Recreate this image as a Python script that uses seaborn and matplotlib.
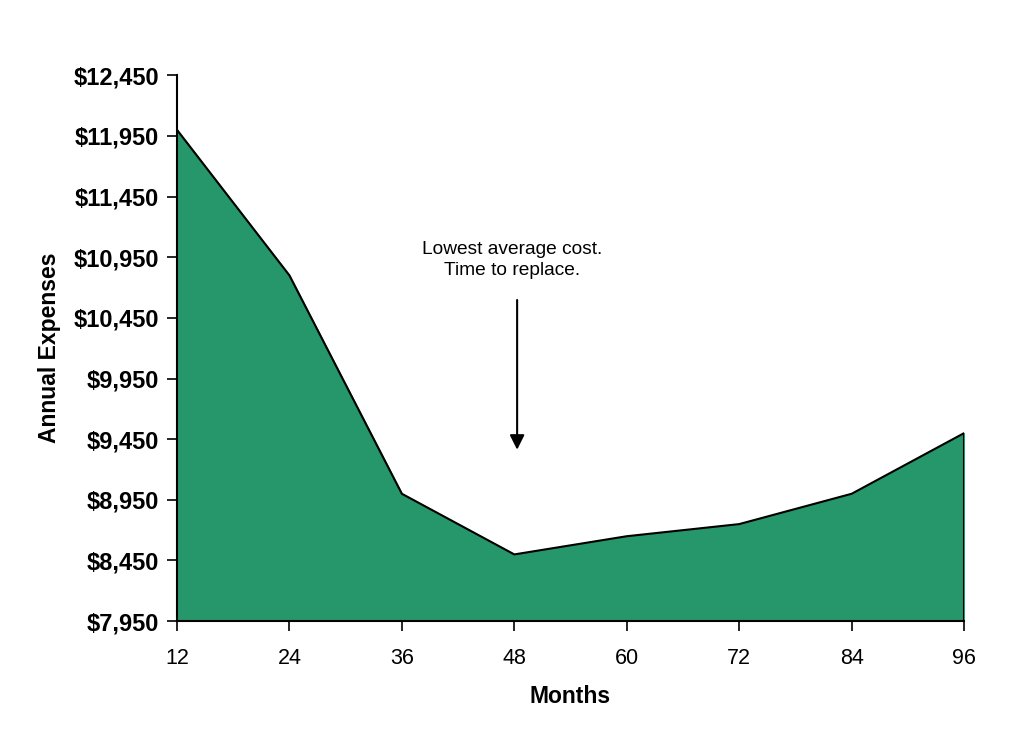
import numpy as np
import pandas as pd
import matplotlib
matplotlib.use("Agg")
import matplotlib.pyplot as plt
import seaborn as sns

sns.set_style("ticks")
plt.rcParams['font.family'] = ['Liberation Sans', 'DejaVu Sans']
plt.rcParams['text.color'] = 'black'
plt.rcParams['axes.labelcolor'] = 'black'
plt.rcParams['xtick.color'] = 'black'
plt.rcParams['ytick.color'] = 'black'

# dane
months = [12, 24, 36, 48, 60, 72, 84, 96]
expenses = [12000, 10800, 9000, 8500, 8650, 8750, 9000, 9500]
y_ticks = list(range(7950, 12451, 500))

df = pd.DataFrame({"Months": months, "Expenses": expenses})

fig = plt.figure(figsize=(10.17, 7.52), dpi=100)
ax = fig.add_axes([0.174, 0.174, 0.774, 0.726])

ax.fill_between(df["Months"], df["Expenses"], y_ticks[0], color="#26976b", zorder=1)
sns.lineplot(data=df, x="Months", y="Expenses", color="black", linewidth=1.5, ax=ax, zorder=2)
ax.vlines(months[-1], y_ticks[0], expenses[-1], color="black", linewidth=1.5, zorder=2)

ax.set_xlim(months[0], months[-1])
ax.set_ylim(y_ticks[0], y_ticks[-1])
ax.set_xticks(months)
ax.set_xticklabels([str(m) for m in months], fontsize=15.5)
ax.set_yticks(y_ticks)
ax.set_yticklabels([f"${v:,}" for v in y_ticks], fontsize=17, fontweight="bold")
ax.tick_params(direction="out", length=7, width=1.2, color="black", labelcolor="black", pad=6)
ax.tick_params(axis="x", pad=12)

for s in ["top", "right"]:
    ax.spines[s].set_visible(False)
for s in ["left", "bottom"]:
    ax.spines[s].set_linewidth(1.5)
    ax.spines[s].set_color("black")

ax.set_xlabel("Months", fontsize=16.5, fontweight="bold", labelpad=12, color="black")
ax.set_ylabel("Annual Expenses", fontsize=16.5, fontweight="bold", labelpad=9, color="black")

# adnotacja
ax.annotate("", xy=(48.3, 9340), xytext=(48.3, 10620),
            arrowprops=dict(arrowstyle="-|>", color="black", lw=1.5, mutation_scale=22))
ax.text(47.8, 10925, "Lowest average cost.\nTime to replace.", ha="center", va="center",
        fontsize=13.8, linespacing=1.3, color="black")

fig.savefig("out.png", dpi=100)
